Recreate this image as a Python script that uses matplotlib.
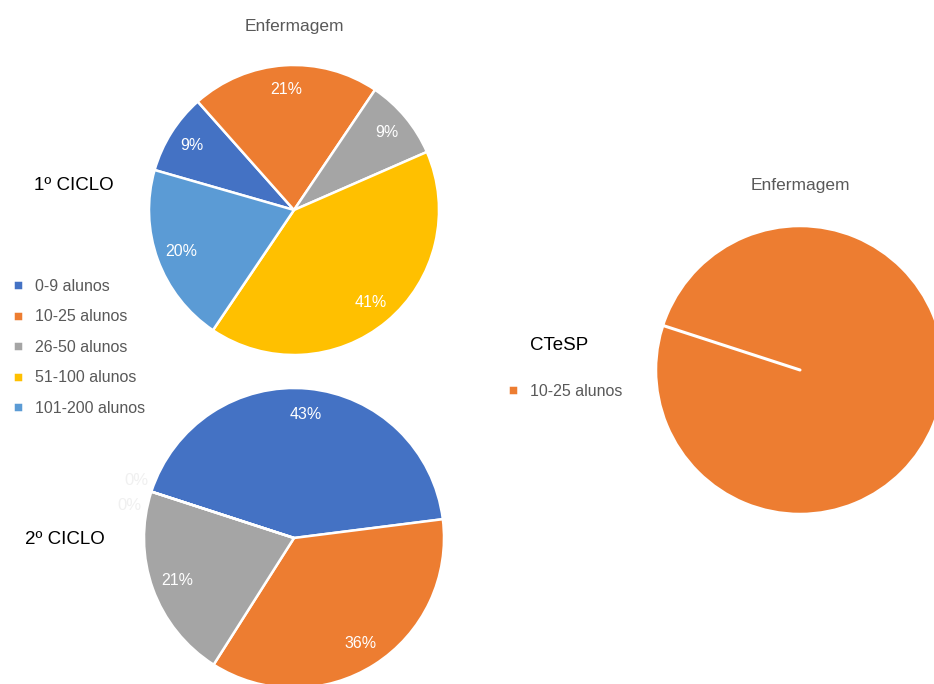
import matplotlib.pyplot as plt
import numpy as np

plt.rcParams['font.family'] = ['Liberation Sans', 'DejaVu Sans']

# Data
categories = ['0-9 alunos', '10-25 alunos', '26-50 alunos', '51-100 alunos', '101-200 alunos']
colors = ['#4472C4', '#ED7D31', '#A5A5A5', '#FFC000', '#5B9BD5']
ciclo1 = [9, 21, 9, 41, 20]
ciclo2 = [43, 36, 21, 0, 0]
ctesp_categories = ['10-25 alunos']
ctesp_colors = ['#ED7D31']
ctesp = [100]

W, H = 934, 684
fig = plt.figure(figsize=(W / 100, H / 100), dpi=100)
grey = '#595959'


def pie_axes(cx, cy, r):
    # axes placed by pixel centre and radius
    s = 1.3 * r
    ax = fig.add_axes([(cx - s) / W, 1 - (cy + s) / H, 2 * s / W, 2 * s / H])
    return ax


def pct(p):
    return f'{p:.0f}%' if p > 0.5 else ''


wp = dict(edgecolor='white', linewidth=1.8)
tp = dict(color='white', fontsize=11.5)

# 1º ciclo
ax1 = pie_axes(294, 210, 145)
w1, _, _ = ax1.pie(ciclo1, colors=colors, startangle=164, counterclock=False,
                   autopct=pct, pctdistance=0.83, wedgeprops=wp, textprops=tp)
ax1.set_xlim(-1.3, 1.3)
ax1.set_ylim(-1.3, 1.3)
ax1.set_aspect('equal')

# 2º ciclo
start2 = 162
ax2 = pie_axes(294, 538, 150)
ax2.pie(ciclo2, colors=colors, startangle=start2, counterclock=False,
        autopct=pct, pctdistance=0.83, wedgeprops=wp, textprops=tp)
# zero-value labels sit just outside the pie, almost invisible
for v, off in zip([v for v in ciclo2 if v == 0], [-2, 7]):
    a = np.radians(start2 + off)
    ax2.text(1.12 * np.cos(a), 1.12 * np.sin(a), f'{v}%', color='#f0f0f0',
             fontsize=12, ha='center', va='center')
ax2.set_xlim(-1.3, 1.3)
ax2.set_ylim(-1.3, 1.3)
ax2.set_aspect('equal')

# CTeSP
start3 = 162
ax3 = pie_axes(800, 370, 144)
w3, _ = ax3.pie(ctesp, colors=ctesp_colors, startangle=start3, counterclock=False,
                wedgeprops=wp)
a = np.radians(start3)
ax3.plot([0, np.cos(a)], [0, np.sin(a)], color='white', lw=2.2, solid_capstyle='round')
ax3.set_xlim(-1.3, 1.3)
ax3.set_ylim(-1.3, 1.3)
ax3.set_aspect('equal')

# Titles and labels
fig.text(294 / W, 1 - 27 / H, 'Enfermagem', ha='center', va='center', fontsize=12.5, color=grey)
fig.text(800 / W, 1 - 186 / H, 'Enfermagem', ha='center', va='center', fontsize=12.5, color=grey)
fig.text(34 / W, 1 - 186 / H, '1º CICLO', ha='left', va='center', fontsize=13.5, color='black')
fig.text(25 / W, 1 - 540 / H, '2º CICLO', ha='left', va='center', fontsize=13.5, color='black')
fig.text(530 / W, 1 - 345 / H, 'CTeSP', ha='left', va='center', fontsize=13.5, color='black')

# Legends
leg_kw = dict(loc='upper left', frameon=False, fontsize=11.5, handlelength=0.6,
              handleheight=0.6, handletextpad=0.75, labelspacing=0.97, borderpad=0,
              borderaxespad=0, labelcolor=grey)
fig.legend(w1, categories, bbox_to_anchor=(13 / W, 1 - 279 / H), **leg_kw)
fig.legend(w3, ctesp_categories, bbox_to_anchor=(508 / W, 1 - 384 / H), **leg_kw)

plt.savefig('out.png', dpi=100)
